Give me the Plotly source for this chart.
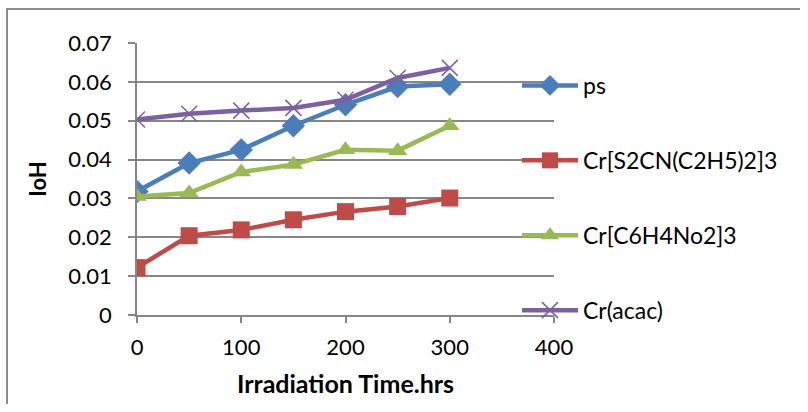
import plotly.graph_objects as go

hours = [0, 50, 100, 150, 200, 250, 300]
ps = [0.0318, 0.0391, 0.0425, 0.0487, 0.0541, 0.0588, 0.0594]
cr_s2cn = [0.0122, 0.0204, 0.0219, 0.0245, 0.0266, 0.0279, 0.0301]
cr_c6h4 = [0.0305, 0.0314, 0.0368, 0.0387, 0.0425, 0.0423, 0.0487]
cr_acac = [0.0503, 0.0518, 0.0526, 0.0533, 0.0554, 0.0610, 0.0636]

series = [
    ("ps", ps, "#4A7EBB", "diamond", 18),
    ("Cr[S2CN(C2H5)2]3", cr_s2cn, "#BE4B48", "square", 17),
    ("Cr[C6H4No2]3", cr_c6h4, "#98B954", "triangle-up", 17),
    ("Cr(acac)", cr_acac, "#7D60A0", "x-thin", 16),
]

FONT = "Lato, 'Open Sans', sans-serif"

fig = go.Figure()
for i, (name, vals, col, sym, sz) in enumerate(series):
    fig.add_trace(go.Scatter(
        x=hours, y=vals, name=name, mode="lines+markers",
        legendgroup=f"g{i}",
        line=dict(color=col, width=4.5),
        marker=dict(symbol=sym, size=sz, color=col,
                    line=dict(color=col, width=1.5 if sym == "x-thin" else 0)),
    ))

L, R, T, B = 137, 554, 43, 315
W, H = 808, 412
PW, PH = R - L, B - T

def px_x(p):
    return (p - L) / PW

def px_y(p):
    return (B - p) / PH

fig.update_layout(
    width=W, height=H,
    margin=dict(l=L, r=W - R, t=T, b=H - B, pad=0, autoexpand=False),
    paper_bgcolor="white", plot_bgcolor="white",
    font=dict(family=FONT, size=22, color="black"),
    showlegend=True,
    legend=dict(
        x=px_x(517), xref="paper", xanchor="left",
        y=px_y(64), yref="paper", yanchor="top",
        font=dict(family=FONT, size=23, color="black"),
        tracegroupgap=42, itemwidth=56,
        bgcolor="rgba(0,0,0,0)",
        maxheight=1,
    ),
    xaxis=dict(
        range=[0, 400], tickvals=[0, 100, 200, 300, 400],
        showgrid=False, zeroline=False,
        showline=True, linecolor="#868686", linewidth=1.5,
        ticks="outside", ticklen=6, tickcolor="#868686", tickwidth=1.5,
        ticklabelstandoff=6,
        tickfont=dict(family=FONT, size=22),
        title=dict(text="<b>Irradiation Time.hrs</b>", font=dict(family=FONT, size=25), standoff=16),
    ),
    yaxis=dict(
        range=[0, 0.07], tickvals=[0, 0.01, 0.02, 0.03, 0.04, 0.05, 0.06, 0.07],
        ticktext=["0", "0.01", "0.02", "0.03", "0.04", "0.05", "0.06", "0.07"],
        showgrid=True, gridcolor="#868686", gridwidth=1.5,
        zeroline=False,
        showline=True, linecolor="#868686", linewidth=1.5,
        ticks="outside", ticklen=7, tickcolor="#868686", tickwidth=1.5,
        ticklabelstandoff=12,
        tickfont=dict(family=FONT, size=22),
        title=dict(text="<b>IoH</b>", font=dict(family=FONT, size=22), standoff=16),
    ),
    shapes=[dict(
        type="path", xref="paper", yref="paper",
        path=f"M {px_x(7)},{px_y(H - 8)} L {px_x(7)},{px_y(9)} L {px_x(W - 8)},{px_y(9)}",
        line=dict(color="#8C8C8C", width=2), layer="below",
    )],
)

fig.write_html("out.html")
